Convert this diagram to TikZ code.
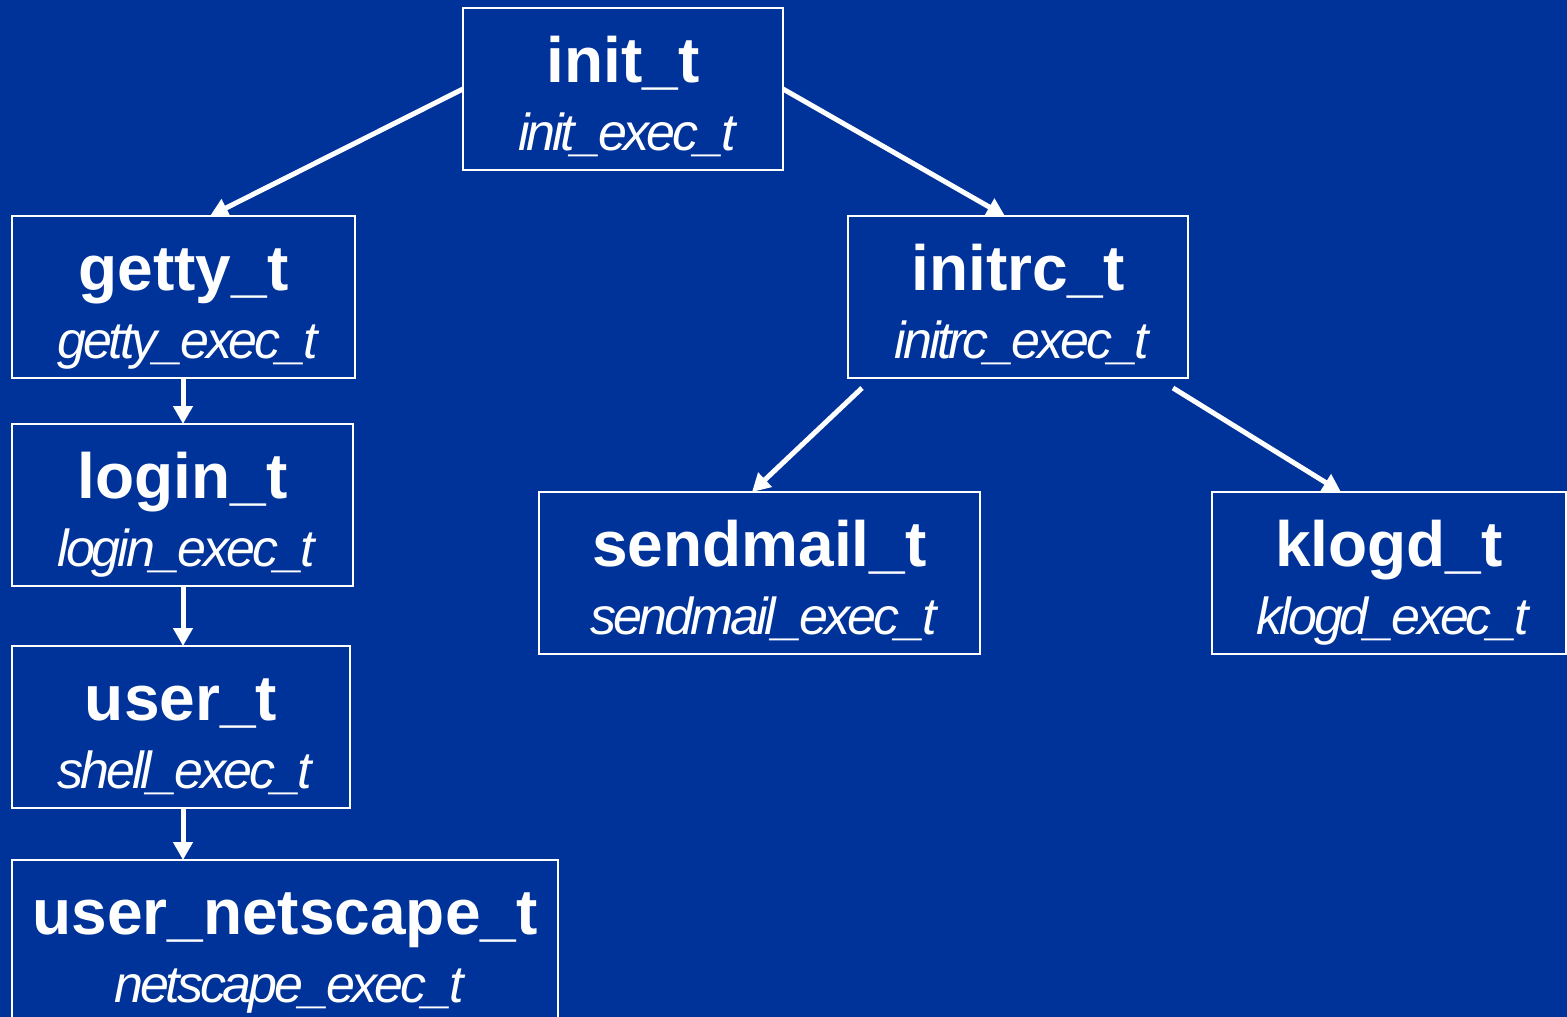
\documentclass[tikz,border=0pt]{standalone}
\usepackage{fontspec}
\setmainfont{Liberation Sans}
\newfontfamily\subfont[LetterSpace=-6]{Liberation Sans}
\usetikzlibrary{arrows.meta}
\definecolor{bg}{RGB}{0,51,153}
\tikzset{
  tbox/.style={draw=white, line width=2pt, inner sep=0pt, outer sep=0pt},
  ttl/.style={text=white, font=\fontsize{64}{64}\selectfont\bfseries, inner sep=0pt, anchor=base},
  sub/.style={text=white, font=\fontsize{52}{52}\subfont\itshape, inner sep=0pt, anchor=base},
  arr/.style={white, line width=5pt, -{Triangle[length=18pt,width=19pt]}}
}
\newcommand\typebox[7]{%
  \node[tbox, minimum width={((#4)-(#2))*1pt}, minimum height={((#5)-(#3))*1pt}]
    (#1) at ({((#2)+(#4))/2},{((#3)+(#5))/2}) {};
  \node[ttl] (#1-t) at ([yshift=-74pt]#1.north) {#6};
  \node[sub] (#1-s) at ([yshift=-142pt,xshift=4pt]#1.north) {#7};
}
\begin{document}
\begin{tikzpicture}[x=1pt,y=-1pt]
\fill[bg] (0,0) rectangle (1567,1017);
\useasboundingbox (0,0) rectangle (1567,1017);
\clip (0,0) rectangle (1567,1017);
\typebox{init}{463}{8}{783}{170}{init\_t}{init\_exec\_t}
\typebox{getty}{12}{216}{355}{378}{getty\_t}{getty\_exec\_t}
\typebox{initrc}{848}{216}{1188}{378}{initrc\_t}{initrc\_exec\_t}
\typebox{login}{12}{424}{353}{586}{login\_t}{login\_exec\_t}
\typebox{sendmail}{539}{492}{980}{654}{sendmail\_t}{sendmail\_exec\_t}
\typebox{klogd}{1212}{492}{1566}{654}{klogd\_t}{klogd\_exec\_t}
\typebox{user}{12}{646}{350}{808}{user\_t}{shell\_exec\_t}
\typebox{netscape}{12}{860}{558}{1040}{user\_netscape\_t}{netscape\_exec\_t}
\draw[arr] (init.west) -- ([xshift=26.5pt]getty.north);
\draw[arr] (init.east) -- ([xshift=-13pt]initrc.north);
\draw[arr] ([xshift=14pt,yshift=-10pt]initrc.south west) -- ([xshift=-7.5pt]sendmail.north);
\draw[arr] ([xshift=-15pt,yshift=-10pt]initrc.south east) -- ([xshift=-48pt]klogd.north);
\draw[arr] ([xshift=-0.5pt]getty.south) -- ([xshift=0.5pt]login.north);
\draw[arr] ([xshift=0.5pt]login.south) -- ([xshift=2pt]user.north);
\draw[arr] ([xshift=2pt]user.south) -- ([xshift=-102pt]netscape.north);
\end{tikzpicture}
\end{document}
